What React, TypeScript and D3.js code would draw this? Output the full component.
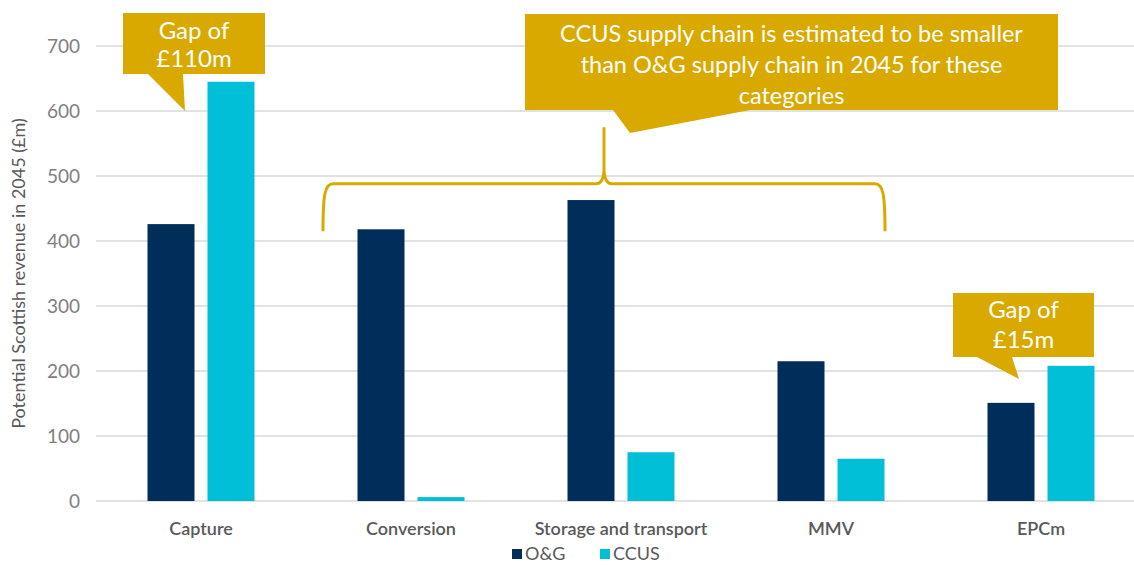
import React from "react";
import * as d3 from "d3";

const categories = ["Capture", "Conversion", "Storage and transport", "MMV", "EPCm"];
const seriesNames = ["O&G", "CCUS"];
const ogValues = [426, 418, 463, 215, 151];
const ccusValues = [645, 6, 75, 65, 208];
const yTicks = [0, 100, 200, 300, 400, 500, 600, 700];
const yTitle = "Potential Scottish revenue in 2045 (£m)";
const callout1 = ["Gap of", "£110m"];
const callout2 = [
  "CCUS supply chain is estimated to be smaller",
  "than O&G supply chain in 2045 for these",
  "categories",
];
const callout3 = ["Gap of", "£15m"];

const W = 1134;
const H = 565;
const NAVY = "#002D5A";
const CYAN = "#00BFD6";
const GOLD = "#D9A900";
const TEXT = "#595959";
const FONT = "Lato, 'Open Sans', sans-serif";

export default function App() {
  const plotLeft = 96;
  const plotRight = 1146;
  const y = d3.scaleLinear().domain([0, 700]).range([501, 46]);
  const x0 = d3.scaleBand<string>().domain(categories).range([plotLeft, plotRight]);
  const groupW = 107;
  const x1 = d3.scaleBand<string>().domain(seriesNames).range([0, groupW]).paddingInner(13 / 60);
  const groupOffset = (x0.bandwidth() - groupW) / 2;
  const colors: Record<string, string> = { "O&G": NAVY, CCUS: CYAN };
  const values: Record<string, number[]> = { "O&G": ogValues, CCUS: ccusValues };
  const cx = (c: string) => (x0(c) as number) + x0.bandwidth() / 2;

  const c1 = { x: 123, y: 13, w: 142, h: 61 };
  const c2 = { x: 525, y: 14, w: 533, h: 96 };
  const c3 = { x: 953, y: 293, w: 141, h: 64 };

  const braceY = y(488);
  const braceL = 323;
  const braceR = 885;
  const braceMid = 604;
  const braceBottom = y(415);
  const braceTop = y(575);

  const bracePath = [
    `M${braceL},${braceBottom}`,
    `C${braceL},${braceY + 10} ${braceL + 2},${braceY} ${braceL + 10},${braceY}`,
    `L${braceMid - 8},${braceY}`,
    `C${braceMid - 2},${braceY} ${braceMid},${braceY - 6} ${braceMid},${braceY - 16}`,
    `L${braceMid},${braceTop}`,
    `M${braceMid},${braceY - 16}`,
    `C${braceMid},${braceY - 6} ${braceMid + 2},${braceY} ${braceMid + 8},${braceY}`,
    `L${braceR - 10},${braceY}`,
    `C${braceR - 2},${braceY} ${braceR},${braceY + 10} ${braceR},${braceBottom}`,
  ].join(" ");

  return (
    <svg
      width={W}
      height={H}
      style={{ position: "absolute", left: 0, top: 0, background: "#fff" }}
      fontFamily={FONT}
    >
      {yTicks.map((t) => (
        <line
          key={t}
          x1={plotLeft}
          x2={W}
          y1={y(t)}
          y2={y(t)}
          stroke="#D9D9D9"
          strokeWidth={1.3}
        />
      ))}
      {yTicks.map((t) => (
        <text
          key={"t" + t}
          x={80}
          y={y(t)}
          dy="0.35em"
          textAnchor="end"
          fontSize={19}
          fill="#7F7F7F"
        >
          {t}
        </text>
      ))}
      <text
        transform={`translate(25,${(y(0) + y(700)) / 2 + 0}) rotate(-90)`}
        textAnchor="middle"
        fontSize={18}
        fill={TEXT}
      >
        {yTitle}
      </text>
      {categories.map((c, i) => (
        <g key={c} transform={`translate(${(x0(c) as number) + groupOffset},0)`}>
          {seriesNames.map((s) => (
            <rect
              key={s}
              x={x1(s) as number}
              y={y(values[s][i])}
              width={x1.bandwidth()}
              height={y(0) - y(values[s][i])}
              fill={colors[s]}
            />
          ))}
        </g>
      ))}
      {categories.map((c) => (
        <text
          key={"c" + c}
          x={cx(c)}
          y={535}
          textAnchor="middle"
          fontSize={18}
          fontWeight={600}
          fill={TEXT}
        >
          {c}
        </text>
      ))}
      {seriesNames.map((s, i) => {
        const lx = 512 + i * 88;
        return (
          <g key={"l" + s}>
            <rect x={lx} y={549} width={10} height={10} fill={colors[s]} />
            <text x={lx + 13} y={560} fontSize={18} fill={TEXT}>
              {s}
            </text>
          </g>
        );
      })}

      <path d={bracePath} fill="none" stroke={GOLD} strokeWidth={3} />

      <rect x={c1.x} y={c1.y} width={c1.w} height={c1.h} fill={GOLD} />
      <polygon
        points={`${c1.x + 25},${c1.y + c1.h} ${c1.x + 60},${c1.y + c1.h} ${c1.x + 62},${y(600)}`}
        fill={GOLD}
      />
      {callout1.map((t, i) => (
        <text
          key={"a" + i}
          x={c1.x + c1.w / 2}
          y={c1.y + 26 + i * 28}
          textAnchor="middle"
          fontSize={24}
          fill="#fff"
        >
          {t}
        </text>
      ))}

      <rect x={c2.x} y={c2.y} width={c2.w} height={c2.h} fill={GOLD} />
      <polygon
        points={`${c2.x + 88},${c2.y + c2.h} ${c2.x + 225},${c2.y + c2.h} ${c2.x + 105},${c2.y + c2.h + 23}`}
        fill={GOLD}
      />
      {callout2.map((t, i) => (
        <text
          key={"b" + i}
          x={c2.x + c2.w / 2}
          y={c2.y + 28 + i * 31}
          textAnchor="middle"
          fontSize={23.5}
          fill="#fff"
        >
          {t}
        </text>
      ))}

      <rect x={c3.x} y={c3.y} width={c3.w} height={c3.h} fill={GOLD} />
      <polygon
        points={`${c3.x + 24},${c3.y + c3.h} ${c3.x + 59},${c3.y + c3.h} ${c3.x + 66},${c3.y + c3.h + 22}`}
        fill={GOLD}
      />
      {callout3.map((t, i) => (
        <text
          key={"c3" + i}
          x={c3.x + c3.w / 2}
          y={c3.y + 25 + i * 30}
          textAnchor="middle"
          fontSize={24}
          fill="#fff"
        >
          {t}
        </text>
      ))}
    </svg>
  );
}
